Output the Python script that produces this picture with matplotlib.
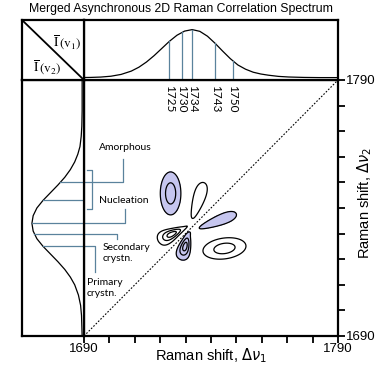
import numpy as np
import matplotlib
matplotlib.use("Agg")
import matplotlib.pyplot as plt
from matplotlib import transforms

# ---------------- data ----------------
# 1D averaged spectrum shown on top (nu1) : wavenumber, normalised intensity
top_nu = [1690, 1694, 1698, 1702, 1706, 1710, 1713, 1716, 1719, 1722, 1725, 1728, 1731, 1734,
          1737, 1740, 1743, 1746, 1749, 1752, 1755, 1758, 1761, 1764, 1768, 1772, 1778, 1784, 1792]
top_int = [0.041, 0.043, 0.049, 0.063, 0.093, 0.148, 0.213, 0.300, 0.406, 0.525, 0.644, 0.746, 0.815, 0.84,
           0.811, 0.73, 0.612, 0.481, 0.356, 0.25, 0.18, 0.13, 0.10, 0.08, 0.06, 0.05, 0.043, 0.04, 0.04]

# 1D averaged spectrum shown on the left (nu2)
left_nu = [1690, 1694, 1698, 1702, 1706, 1710, 1713, 1716, 1719, 1722, 1725, 1728, 1731, 1734,
           1737, 1740, 1743, 1746, 1749, 1752, 1755, 1758, 1761, 1764, 1768, 1772, 1778, 1784, 1790]
left_int = [0.03, 0.035, 0.04, 0.055, 0.09, 0.15, 0.22, 0.31, 0.42, 0.54, 0.66, 0.76, 0.82, 0.84,
            0.82, 0.76, 0.66, 0.54, 0.42, 0.31, 0.22, 0.15, 0.10, 0.065, 0.045, 0.035, 0.03, 0.03, 0.03]

# marked band positions
band_nu = [1725, 1730, 1734, 1743, 1750]
band_labels = ["1725", "1730", "1734", "1743", "1750"]

# asynchronous correlation peaks: centre nu1, centre nu2, sigma major, sigma minor,
# angle (deg), teardrop skew, sign*amplitude
peak_nu1 = [1724.1, 1734.9, 1742.6, 1724.6, 1729.8, 1745.3]
peak_nu2 = [1745.7, 1742.8, 1734.9, 1729.8, 1725.0, 1724.2]
peak_sa = [6.2, 7.4, 7.8, 3.9, 3.6, 6.3]
peak_sb = [3.0, 2.2, 1.9, 1.6, 1.6, 3.0]
peak_ang = [90, 72, 21, 26, 75, 8]
peak_skew = [0.0, 0.4, 0.4, -0.4, -0.35, 0.0]
peak_amp = [-0.75, 0.5, -0.5, 1.0, -1.0, 0.75]
contour_levels = [-0.85, -0.6, -0.3, 0.3, 0.6, 0.85]

axis_ticks = list(range(1690, 1791, 10))
axis_ticklabels = ["1690"] + [""] * 9 + ["1790"]

# ---------------- figure ----------------
W, H = 376, 370
fig = plt.figure(figsize=(W / 100, H / 100), dpi=100)


def px_axes(x0, y0, x1, y1):
    return fig.add_axes([x0 / W, 1 - y1 / H, (x1 - x0) / W, (y1 - y0) / H])


ax = px_axes(84, 80, 338, 336)
ax_top = px_axes(84, 20, 338, 80)
ax_left = px_axes(22, 80, 84, 336)
ax_corner = px_axes(22, 20, 84, 80)

SPW = 1.6
BLUE = "#5a829c"
FILL = "#c6c6ef"
LBL_FONT = "Lato"

for a in (ax, ax_top, ax_left, ax_corner):
    for s in a.spines.values():
        s.set_linewidth(SPW)
        s.set_color("black")

# ---- main 2D plot ----
g = np.linspace(1690, 1790, 500)
X, Y = np.meshgrid(g, g)
F = np.zeros_like(X)
for c1, c2, sa, sb, ang, sk, amp in zip(peak_nu1, peak_nu2, peak_sa, peak_sb, peak_ang,
                                         peak_skew, peak_amp):
    t = np.deg2rad(ang)
    u = (X - c1) * np.cos(t) + (Y - c2) * np.sin(t)
    v = -(X - c1) * np.sin(t) + (Y - c2) * np.cos(t)
    sbe = sb * np.exp(np.clip(sk * u / sa, -1.5, 1.5))
    F += amp * np.exp(-0.5 * (u ** 2 / sa ** 2 + v ** 2 / sbe ** 2))

ax.contourf(X, Y, F, levels=[-10, -0.3], colors=[FILL])
ax.contour(X, Y, F, levels=contour_levels, colors="black", linewidths=0.9, linestyles="solid")
ax.plot([1690, 1790], [1690, 1790], color="black", lw=0.8, ls=(0, (1.5, 1.5)))

ax.set_xlim(1690, 1790)
ax.set_ylim(1690, 1790)
ax.set_xticks(axis_ticks)
ax.set_xticklabels(axis_ticklabels, family="Liberation Sans", fontsize=9.5)
ax.set_yticks(axis_ticks)
ax.set_yticklabels(axis_ticklabels, family="Liberation Sans", fontsize=9.5)
ax.yaxis.tick_right()
ax.tick_params(axis="x", direction="out", length=5, width=1.3, pad=0)
ax.tick_params(axis="y", direction="out", length=5, width=1.3, pad=1)
fig.text(211 / W, 1 - 356 / H, r"Raman shift, $\Delta\nu_1$", family="Liberation Sans",
         fontsize=10.5, ha="center", va="center")
fig.text(365 / W, 1 - 203 / H, r"Raman shift, $\Delta\nu_2$", family="Liberation Sans",
         fontsize=10.5, ha="center", va="center", rotation=90)

# ---- top spectrum ----
ax_top.plot(top_nu, top_int, color="black", lw=0.9)
ax_top.set_xlim(1691.4, 1791.4)
ax_top.set_ylim(0, 1)
ax_top.set_xticks([])
ax_top.set_yticks([])
tr_top = transforms.blended_transform_factory(ax_top.transData, ax_top.transAxes)
for nu, lab in zip(band_nu, band_labels):
    ax_top.plot([nu, nu], [top_int[0], np.interp(nu, top_nu, top_int)], color=BLUE, lw=0.9)
    ax_top.text(nu, -0.08, lab, transform=tr_top, rotation=270, ha="center", va="top",
                fontsize=8.5, family=LBL_FONT, clip_on=False)

# ---- left spectrum ----
ax_left.plot(left_int, left_nu, color="black", lw=0.9)
ax_left.set_xlim(1, 0)
ax_left.set_ylim(1690, 1790)
ax_left.set_xticks([])
ax_left.set_yticks([])
for nu in band_nu:
    ax_left.plot([np.interp(nu, left_nu, left_int), 0], [nu, nu], color=BLUE, lw=0.9)

# connectors from band lines to the labels (main-axis coordinates)
conn = {
    1750: [(1690, 1750), (1705.4, 1750), (1705.4, 1759.1)],
    1734: [(1690, 1734), (1706.1, 1734), (1706.1, 1739.5)],
    1730: [(1690, 1730), (1703.0, 1730), (1703.0, 1727.9)],
    1725: [(1690, 1725), (1694.3, 1725), (1694.3, 1715.0)],
}
for pts in conn.values():
    xs, ys = zip(*pts)
    ax.plot(xs, ys, color=BLUE, lw=0.9, clip_on=False)
ax.plot([1691.2, 1693.1, 1693.1, 1691.2], [1755, 1755, 1739.5, 1739.5], color=BLUE, lw=0.9)

lbl_kw = dict(fontsize=7.5, family=LBL_FONT, ha="left", va="center")
ax.text(1695.9, 1763.8, "Amorphous", **lbl_kw)
ax.text(1695.9, 1743.1, "Nucleation", **lbl_kw)
ax.text(1697.5, 1722.3, "Secondary\ncrystn.", linespacing=1.3, **lbl_kw)
ax.text(1691.2, 1708.8, "Primary\ncrystn.", linespacing=1.3, **lbl_kw)

# ---- corner box ----
ax_corner.set_xticks([])
ax_corner.set_yticks([])
ax_corner.plot([0, 1], [1, 0], color="black", lw=1.3, transform=ax_corner.transAxes)
ax_corner.text(0.73, 0.63, r"$\overline{\mathrm{I}}\,(\mathrm{v}_1)$", transform=ax_corner.transAxes,
               ha="center", va="center", fontsize=9.5, math_fontfamily="stix")
ax_corner.text(0.41, 0.22, r"$\overline{\mathrm{I}}\,(\mathrm{v}_2)$", transform=ax_corner.transAxes,
               ha="center", va="center", fontsize=9.5, math_fontfamily="stix")

fig.text(181 / W, 1 - 9 / H, "Merged Asynchronous 2D Raman Correlation Spectrum",
         ha="center", va="center", family="Liberation Sans", fontsize=8.8)

fig.savefig("out.png", dpi=100)
